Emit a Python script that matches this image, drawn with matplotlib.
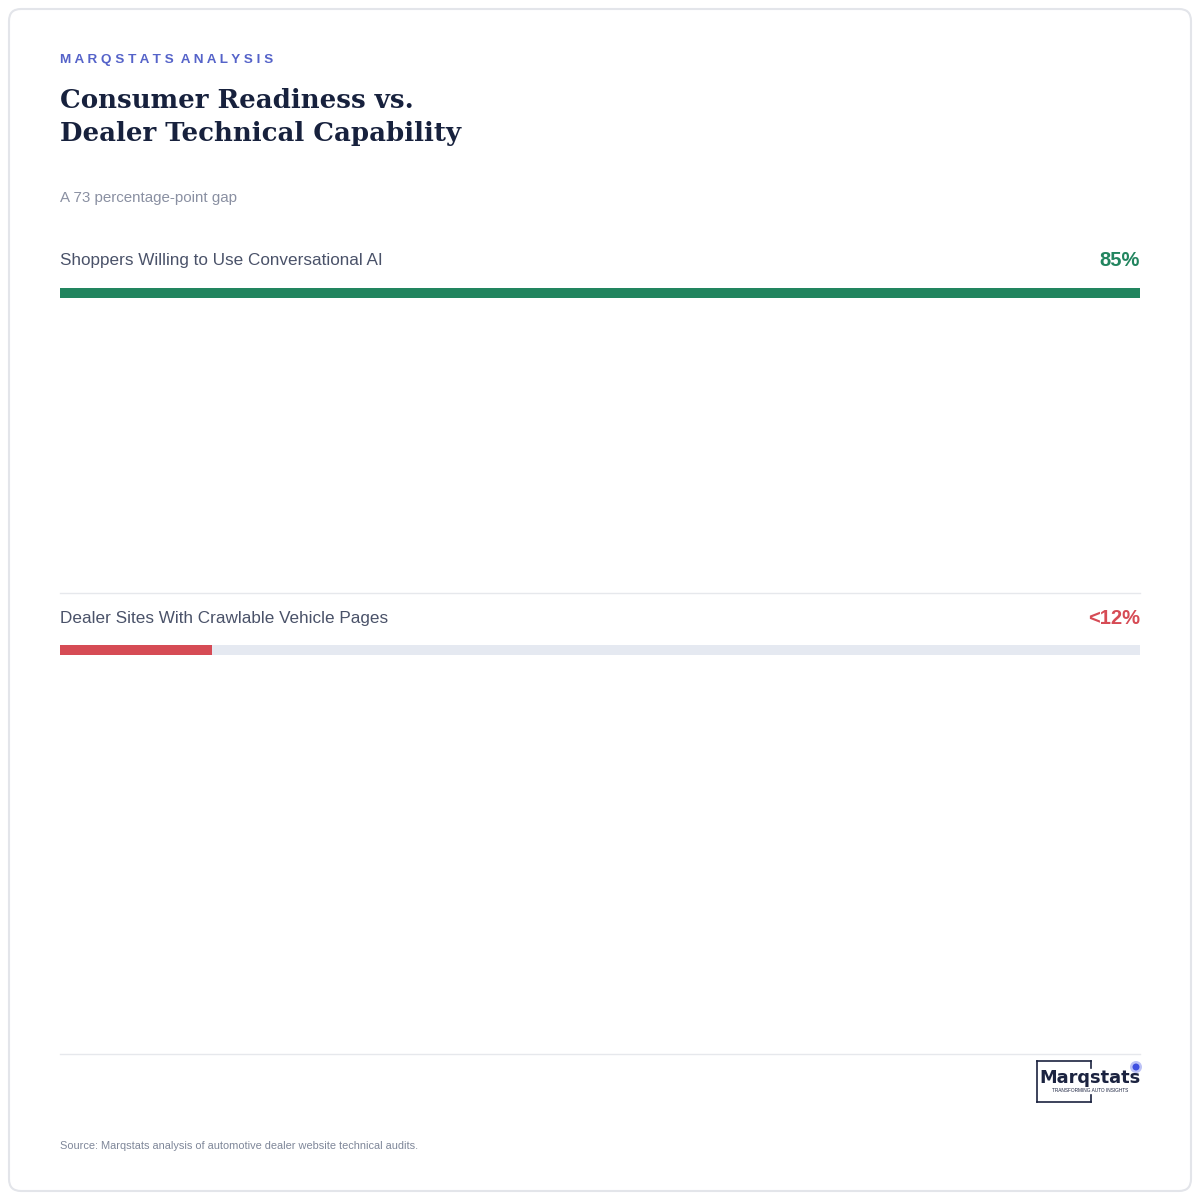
import matplotlib.pyplot as plt
from matplotlib.patches import FancyBboxPatch, Circle
from matplotlib.lines import Line2D

# data
categories = ["Shoppers Willing to Use Conversational AI", "Dealer Sites With Crawlable Vehicle Pages"]
values = [85, 12]
value_labels = ["85%", "<12%"]
bar_colors = ["#22855f", "#d64b55"]
scale_max = max(values)

W = H = 1200
fig = plt.figure(figsize=(12, 12), dpi=100)
fig.patch.set_facecolor("white")

def fx(x):
    return x / W

def fy(y):
    return 1 - y / H

def txt(x, y, s, **kw):
    fig.text(fx(x), fy(y), s, **kw)

# card border
card = FancyBboxPatch((fx(9), fy(1191)), fx(1182), 1182 / H,
                      boxstyle="round,pad=0,rounding_size=0.01",
                      transform=fig.transFigure, facecolor="none",
                      edgecolor="#e3e5ea", linewidth=1.5, zorder=-1)
fig.patches.append(card)

sans = ["Liberation Sans", "DejaVu Sans"]

# header
txt(60, 60, "  ".join(" ".join(w) for w in "MARQSTATS ANALYSIS".split()),
    family=sans, fontsize=9.7, fontweight="bold", color="#5563c9", va="center")
txt(60, 100, "Consumer Readiness vs.", family="DejaVu Serif", fontsize=18.7,
    fontweight="bold", color="#17213d", va="center")
txt(60, 134, "Dealer Technical Capability", family="DejaVu Serif", fontsize=18.7,
    fontweight="bold", color="#17213d", va="center")
txt(60, 198, "A 73 percentage-point gap", family=sans, fontsize=10.9,
    color="#8a90a2", va="center")

# bar rows
row_tops = [288, 645]
for cat, v, lab, col, top in zip(categories, values, value_labels, bar_colors, row_tops):
    txt(60, top - 27, cat, family=sans, fontsize=12.3, color="#4a5269", va="center")
    txt(1140, top - 27, lab, family=sans, fontsize=14.5, fontweight="bold",
        color=col, va="center", ha="right")
    ax = fig.add_axes([fx(60), fy(top + 10), fx(1080), 10 / H])
    ax.barh([0], [scale_max], height=1, color="#e5e9f1")
    ax.barh([0], [v], height=1, color=col)
    ax.set_xlim(0, scale_max)
    ax.set_ylim(-0.5, 0.5)
    ax.axis("off")

# dividers
for y in [593, 1054]:
    fig.lines.append(Line2D([fx(60), fx(1140)], [fy(y), fy(y)],
                            transform=fig.transFigure, color="#e6e8ec", lw=1))

# logo
logo_col = "#1b2340"
segs = [([1037, 1091], [1061, 1061]), ([1037, 1037], [1061, 1102]),
        ([1037, 1091], [1102, 1102]), ([1091, 1091], [1061, 1068]),
        ([1091, 1091], [1095, 1102])]
for xs, ys in segs:
    fig.lines.append(Line2D([fx(x) for x in xs], [fy(y) for y in ys],
                            transform=fig.transFigure, color=logo_col, lw=1.2))
txt(1090, 1078, "Marqstats", family="DejaVu Sans", fontsize=12.8, fontweight="bold",
    color=logo_col, va="center", ha="center")
txt(1090, 1091, "TRANSFORMING AUTO INSIGHTS", family=sans, fontsize=3.4,
    color=logo_col, va="center", ha="center")
fig.patches.append(Circle((fx(1136), fy(1067)), 6 / W, transform=fig.transFigure,
                          facecolor="#7b86ee", edgecolor="none", alpha=0.5))
fig.patches.append(Circle((fx(1136), fy(1067)), 3.5 / W, transform=fig.transFigure,
                          facecolor="#3f4fe0", edgecolor="none"))

# source
txt(60, 1146, "Source: Marqstats analysis of automotive dealer website technical audits.",
    family=sans, fontsize=7.9, color="#7f8799", va="center")

fig.savefig("out.png", dpi=100, facecolor="white")
